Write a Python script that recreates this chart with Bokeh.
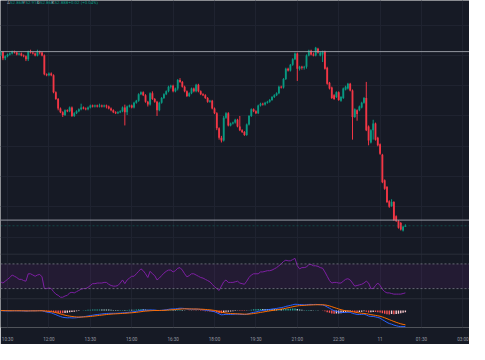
import numpy as np
import pandas as pd
from bokeh.plotting import figure
from bokeh.models import Range1d, FixedTicker, Span, Label, ColumnDataSource, BoxAnnotation
from bokeh.embed import file_html
from bokeh.resources import INLINE

# ---------------- data ----------------
start_time = "2025-11-10 10:15"
bar_minutes = 5

opens = [
56.488, 56.568, 56.428, 56.468, 56.508, 56.528, 56.568, 56.548, 56.508, 56.528,
56.488, 56.468, 56.408, 56.568, 56.548, 56.528, 56.488, 56.568, 56.548, 56.488,
56.088, 56.068, 56.108, 56.068, 55.708, 55.568, 55.368, 55.288, 55.228, 55.328,
55.308, 55.388, 55.208, 55.268, 55.308, 55.348, 55.388, 55.368, 55.348, 55.388,
55.428, 55.408, 55.428, 55.408, 55.428, 55.408, 55.428, 55.408, 55.368, 55.328,
55.288, 55.268, 55.288, 55.308, 55.388, 55.288, 55.408, 55.428, 55.388, 55.488,
55.528, 55.668, 55.708, 55.648, 55.508, 55.448, 55.688, 55.568, 55.508, 55.328,
55.488, 55.588, 55.668, 55.728, 55.828, 55.848, 55.728, 55.788, 55.968, 55.928,
55.828, 55.728, 55.628, 55.688, 55.788, 55.728, 55.868, 55.728, 55.668, 55.648,
55.588, 55.508, 55.528, 55.368, 55.268, 54.948, 54.748, 54.688, 55.168, 55.268,
55.008, 55.048, 55.068, 55.128, 54.988, 54.908, 54.868, 54.808, 55.028, 55.208,
55.348, 55.308, 55.268, 55.428, 55.468, 55.448, 55.488, 55.508, 55.548, 55.608,
55.648, 55.688, 55.828, 55.808, 55.988, 56.208, 56.168, 56.288, 56.408, 56.528,
56.208, 56.248, 56.228, 56.248, 56.488, 56.588, 56.508, 56.488, 56.628, 56.488,
56.508, 56.568, 56.228, 55.908, 55.808, 55.648, 55.608, 55.708, 55.528, 55.588,
55.768, 55.788, 55.888, 55.748, 55.188, 55.328, 55.328, 55.388, 55.488, 55.588,
54.988, 54.648, 54.908, 55.048, 54.748, 54.608, 54.388, 53.848, 53.708, 53.408,
53.308, 53.388, 53.088, 52.988, 52.948, 52.788, 52.868]

highs = [
56.588, 56.568, 56.488, 56.528, 56.548, 56.588, 56.588, 56.568, 56.548, 56.548,
56.508, 56.488, 56.588, 56.608, 56.568, 56.548, 56.608, 56.588, 56.568, 56.508,
56.108, 56.128, 56.128, 56.088, 55.728, 55.588, 55.388, 55.308, 55.348, 55.348,
55.408, 55.408, 55.288, 55.328, 55.368, 55.468, 55.408, 55.388, 55.408, 55.448,
55.448, 55.448, 55.448, 55.468, 55.448, 55.448, 55.448, 55.428, 55.388, 55.348,
55.308, 55.308, 55.328, 55.408, 55.448, 55.428, 55.448, 55.448, 55.508, 55.548,
55.688, 55.728, 55.728, 55.668, 55.528, 55.708, 55.728, 55.588, 55.528, 55.508,
55.608, 55.688, 55.748, 55.848, 55.868, 55.868, 55.808, 55.988, 56.008, 55.948,
55.848, 55.748, 55.708, 55.808, 55.808, 55.888, 55.888, 55.748, 55.688, 55.668,
55.608, 55.548, 55.548, 55.388, 55.288, 54.968, 54.788, 55.208, 55.288, 55.288,
55.068, 55.088, 55.148, 55.148, 55.208, 54.928, 54.888, 55.048, 55.228, 55.368,
55.368, 55.328, 55.448, 55.488, 55.488, 55.508, 55.528, 55.568, 55.628, 55.668,
55.708, 55.848, 55.848, 56.008, 56.228, 56.228, 56.308, 56.428, 56.548, 56.548,
56.268, 56.268, 56.268, 56.508, 56.608, 56.608, 56.548, 56.668, 56.648, 56.568,
56.588, 56.588, 56.248, 55.928, 55.828, 55.668, 55.728, 55.728, 55.628, 55.808,
55.848, 55.908, 55.908, 55.768, 55.368, 55.348, 55.428, 55.508, 55.608, 55.928,
55.008, 54.928, 55.128, 55.068, 54.768, 54.628, 54.408, 53.868, 53.728, 53.428,
53.448, 53.408, 53.108, 53.008, 52.968, 52.888, 52.918]

lows = [
56.468, 56.388, 56.388, 56.448, 56.488, 56.508, 56.528, 56.488, 56.488, 56.468,
56.448, 56.368, 56.368, 56.528, 56.508, 56.468, 56.468, 56.508, 56.468, 56.068,
56.048, 56.048, 56.048, 55.688, 55.548, 55.328, 55.268, 55.188, 55.208, 55.288,
55.288, 55.188, 55.188, 55.248, 55.288, 55.328, 55.348, 55.328, 55.328, 55.368,
55.388, 55.388, 55.388, 55.388, 55.388, 55.388, 55.368, 55.348, 55.308, 55.268,
55.248, 55.248, 55.268, 55.288, 55.008, 55.228, 55.388, 55.368, 55.368, 55.468,
55.508, 55.648, 55.628, 55.488, 55.408, 55.428, 55.548, 55.488, 55.208, 55.308,
55.468, 55.568, 55.648, 55.708, 55.788, 55.708, 55.708, 55.748, 55.908, 55.808,
55.708, 55.608, 55.608, 55.668, 55.708, 55.708, 55.708, 55.648, 55.628, 55.568,
55.488, 55.488, 55.348, 55.248, 54.908, 54.708, 54.648, 54.668, 55.148, 54.988,
54.988, 55.028, 55.048, 54.968, 54.888, 54.848, 54.788, 54.788, 55.008, 55.188,
55.288, 55.248, 55.248, 55.408, 55.428, 55.428, 55.468, 55.488, 55.528, 55.588,
55.628, 55.668, 55.788, 55.788, 55.968, 56.148, 56.148, 56.268, 56.388, 55.948,
56.168, 56.188, 56.188, 56.208, 56.468, 56.488, 56.468, 56.468, 56.528, 56.468,
56.348, 56.188, 55.868, 55.768, 55.568, 55.548, 55.588, 55.528, 55.508, 55.568,
55.748, 55.768, 55.728, 54.708, 55.168, 55.108, 55.308, 55.368, 55.468, 54.888,
54.588, 54.628, 54.708, 54.688, 54.568, 54.388, 53.788, 53.648, 53.368, 53.268,
53.288, 52.988, 52.968, 52.828, 52.788, 52.768, 52.868]

closes = [
56.568, 56.428, 56.468, 56.508, 56.528, 56.568, 56.548, 56.508, 56.528, 56.488,
56.468, 56.408, 56.568, 56.548, 56.528, 56.488, 56.568, 56.548, 56.488, 56.088,
56.068, 56.108, 56.068, 55.708, 55.568, 55.368, 55.288, 55.228, 55.328, 55.308,
55.388, 55.208, 55.268, 55.308, 55.348, 55.388, 55.368, 55.348, 55.388, 55.428,
55.408, 55.428, 55.408, 55.428, 55.408, 55.428, 55.408, 55.368, 55.328, 55.288,
55.268, 55.288, 55.308, 55.388, 55.288, 55.408, 55.428, 55.388, 55.488, 55.528,
55.668, 55.708, 55.648, 55.508, 55.448, 55.688, 55.568, 55.508, 55.328, 55.488,
55.588, 55.668, 55.728, 55.828, 55.848, 55.728, 55.788, 55.968, 55.928, 55.828,
55.728, 55.628, 55.688, 55.788, 55.728, 55.868, 55.728, 55.668, 55.648, 55.588,
55.508, 55.528, 55.368, 55.268, 54.948, 54.748, 54.688, 55.168, 55.268, 55.008,
55.048, 55.068, 55.128, 54.988, 54.908, 54.868, 54.808, 55.028, 55.208, 55.348,
55.308, 55.268, 55.428, 55.468, 55.448, 55.488, 55.508, 55.548, 55.608, 55.648,
55.688, 55.828, 55.808, 55.988, 56.208, 56.168, 56.288, 56.408, 56.528, 56.208,
56.248, 56.228, 56.248, 56.488, 56.588, 56.508, 56.488, 56.648, 56.548, 56.548,
56.568, 56.208, 55.888, 55.788, 55.588, 55.568, 55.708, 55.548, 55.608, 55.788,
55.828, 55.888, 55.748, 55.188, 55.348, 55.248, 55.408, 55.488, 55.588, 54.908,
54.688, 54.908, 55.048, 54.708, 54.588, 54.408, 53.808, 53.668, 53.388, 53.288,
53.388, 53.008, 52.988, 52.848, 52.808, 52.868, 52.888]

rsi = [
41, 39, 42, 45, 48, 52, 50, 48, 45, 45,
43, 42, 54, 54, 52, 50, 52, 53, 49, 30,
30, 31, 30, 25, 21, 19, 16, 16, 18, 19,
23, 24, 23, 25, 27, 29, 30, 30, 32, 35,
38, 38, 39, 39, 39, 40, 40, 37, 35, 34,
34, 35, 39, 44, 38, 44, 47, 50, 50, 54,
58, 62, 59, 54, 48, 58, 54, 51, 44, 47,
51, 55, 58, 60, 60, 57, 59, 63, 64, 60,
54, 49, 51, 54, 54, 52, 50, 48, 47, 45,
43, 41, 37, 33, 30, 27, 34, 41, 44, 40,
40, 40, 41, 42, 39, 38, 37, 42, 48, 52,
54, 54, 54, 57, 57, 58, 59, 59, 60, 62,
64, 67, 70, 74, 76, 75, 75, 77, 79, 67,
62, 64, 64, 65, 69, 69, 67, 67, 66, 64,
63, 57, 50, 43, 39, 40, 40, 39, 39, 42,
45, 46, 44, 39, 34, 35, 36, 37, 39, 42,
39, 30, 30, 35, 39, 35, 29, 25, 23, 23,
22, 21, 21, 21, 21, 22, 23]

levels = [56.568, 53.008]          # horizontal lines
rsi_band = [30, 70]
tick_times = ["2025-11-10 10:30", "2025-11-10 12:00", "2025-11-10 13:30",
              "2025-11-10 15:00", "2025-11-10 16:30", "2025-11-10 18:00",
              "2025-11-10 19:30", "2025-11-10 21:00", "2025-11-10 22:30",
              "2025-11-11 00:00", "2025-11-11 01:30", "2025-11-11 03:00"]
tick_labels = ["10:30", "12:00", "13:30", "15:00", "16:30", "18:00",
               "19:30", "21:00", "22:30", "11", "01:30", "03:00"]

# ---------------- style / geometry ----------------
BG = "#161a25"
GRID = "#1f2330"
SEP = "#2a2e39"
UP = "#089981"
DOWN = "#f23645"
TXT = "#9598a1"
FONT = "Roboto"
W, H = 469, 344
AXIS_H = 14
FH = H - AXIS_H                      # frame height (px)
MAIN_PX = (0, 256)                   # pane extents, px from frame top
RSI_PX = (256, 301)
MACD_PX = (301, FH)

def pane_range(v_top, v_bot, px):
    """Range over the whole frame so that [v_top, v_bot] fills the pane px."""
    per = (v_top - v_bot) / (px[1] - px[0])
    return Range1d(v_bot - (FH - px[1]) * per, v_top + px[0] * per)

def to_ms(t):
    return float(pd.Timestamp(t).value // 10**6)

times = pd.date_range(start_time, periods=len(closes), freq=f"{bar_minutes}min")
x = np.array([float(t.value // 10**6) for t in times])
bar_ms = bar_minutes * 60 * 1000
o = np.array(opens); h = np.array(highs); l = np.array(lows); c = np.array(closes)
colors = [UP if cc >= oo else DOWN for oo, cc in zip(o, c)]
tick_ms = [to_ms(t) for t in tick_times]

# MACD (12, 26, 9) from closes
def ema(vals, n):
    a = 2.0 / (n + 1)
    out = [vals[0]]
    for v in vals[1:]:
        out.append(out[-1] + a * (v - out[-1]))
    return np.array(out)

macd = ema(c, 12) - ema(c, 26)
signal = ema(macd, 9)
hist = macd - signal
hcol = []
for i, hv in enumerate(hist):
    prev = hist[i - 1] if i > 0 else 0.0
    if hv >= 0:
        hcol.append("#26a69a" if hv > prev else "#b2dfdb")
    else:
        hcol.append("#ff5252" if hv < prev else "#ffcdd2")
m = min(macd.min(), signal.min(), hist.min())
mspan = -m / 0.56
m_top = 0.41 * mspan

p = figure(width=W, height=H, x_axis_type="datetime",
           x_range=Range1d(to_ms("2025-11-10 10:14:40"), to_ms("2025-11-11 03:14:25")),
           y_range=pane_range(57.648, 52.288, MAIN_PX),
           output_backend="svg", toolbar_location=None,
           min_border=0, min_border_bottom=AXIS_H,
           background_fill_color=BG, border_fill_color=BG, outline_line_color=None)
p.extra_y_ranges = {"rsi": pane_range(85.8, 13.5, RSI_PX),
                    "macd": pane_range(m_top, m_top - mspan, MACD_PX)}
p.yaxis.visible = False
p.xaxis.ticker = FixedTicker(ticks=tick_ms)
p.xgrid.ticker = FixedTicker(ticks=tick_ms)
p.ygrid.ticker = FixedTicker(ticks=list(np.arange(52.648, 57.7, 0.64)))
p.grid.grid_line_color = GRID
p.xaxis.major_label_overrides = {t: lab for t, lab in zip(tick_ms, tick_labels)}
p.xaxis.axis_line_color = None
p.xaxis.major_tick_line_color = None
p.xaxis.minor_tick_line_color = None
p.xaxis.major_label_text_font = FONT
p.xaxis.major_label_text_font_size = "4.6px"
p.xaxis.major_label_text_color = TXT
p.xaxis.major_label_standoff = 3

# ---- price pane ----
src = ColumnDataSource(dict(x=x, high=h, low=l, top=np.maximum(o, c),
                            bottom=np.minimum(o, c), color=colors))
p.segment(x0="x", y0="high", x1="x", y1="low", color="color", line_width=1, source=src)
p.vbar(x="x", width=bar_ms * 0.8, top="top", bottom="bottom",
       fill_color="color", line_color=None, source=src)
for lv in levels:
    p.add_layout(Span(location=lv, dimension="width", line_color="#a3a6af",
                      line_width=1, line_alpha=0.9))
p.add_layout(Span(location=closes[-1], dimension="width", line_color=UP,
                  line_alpha=0.35, line_width=1, line_dash="2 2"))

chg = closes[-1] - closes[-2]
header = [("A", 6.5, TXT), (f"{opens[-1]:.3f}", 9.6, UP),
          ("Y", 21.9, TXT), (f"{highs[-1]:.3f}", 25.0, UP),
          ("D", 36.4, TXT), (f"{lows[-1]:.3f}", 39.5, UP),
          ("K", 51.0, TXT), (f"{closes[-1]:.3f}", 54.1, UP),
          (f"{chg:+.2f} ({chg / closes[-2] * 100:+.2f}%)", 68.0, UP)]
for txt, xx, col in header:
    p.add_layout(Label(x=xx, y=FH - 5, x_units="screen", y_units="screen", text=txt,
                       text_font=FONT, text_font_size="4.4px", text_color=col,
                       text_baseline="middle"))

# ---- RSI pane ----
p.add_layout(Span(location=85.8, dimension="width", y_range_name="rsi",
                  line_color=SEP, line_width=1))
p.add_layout(Span(location=13.5, dimension="width", y_range_name="rsi",
                  line_color=SEP, line_width=1))
p.add_layout(BoxAnnotation(bottom=rsi_band[0], top=rsi_band[1], y_range_name="rsi",
                           fill_color="#9c27b0", fill_alpha=0.1, line_color=None))
for lv in rsi_band:
    p.add_layout(Span(location=lv, dimension="width", y_range_name="rsi",
                      line_color="#787b86", line_width=1, line_dash="2 2", line_alpha=0.8))
p.line(x, rsi, y_range_name="rsi", line_color="#7b1fa2", line_width=1)

# ---- MACD pane ----
p.vbar(x=x, width=bar_ms * 0.6, top=hist, bottom=0, y_range_name="macd",
       fill_color=hcol, line_color=None)
p.line(x, macd, y_range_name="macd", line_color="#2962ff", line_width=1)
p.line(x, signal, y_range_name="macd", line_color="#ff6d00", line_width=1)

open("out.html", "w").write(file_html(p, INLINE))
